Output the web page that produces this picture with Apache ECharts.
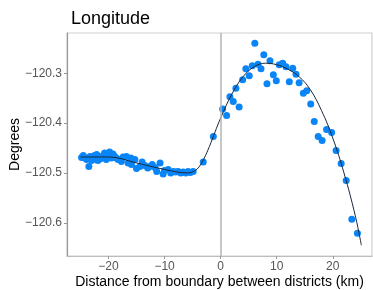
<!DOCTYPE html>
<html>
<head>
<meta charset="utf-8">
<script src="https://cdn.jsdelivr.net/npm/echarts@6/dist/echarts.min.js"></script>
<style>
  html, body { margin: 0; padding: 0; background: #fff; }
  #chart { width: 373px; height: 290px; }
</style>
</head>
<body>
<div id="chart"></div>
<script>
// distance from boundary (km) and longitude (degrees)
const distKm = [
  -24.8, -24.5, -24.2, -23.9, -23.5, -23.3, -23.0, -22.8, -22.5, -22.1,
  -21.9, -21.5, -21.25, -20.9, -20.7, -20.4, -20.1, -19.8, -19.5, -19.2,
  -18.9, -18.6, -18.3, -17.7, -17.4, -16.8, -16.5, -16.0, -15.9, -15.3,
  -15.0, -14.4, -14.0, -13.5, -13.0, -12.6, -12.2, -11.7, -11.4, -10.8,
  -10.25, -10.0, -9.36, -8.9, -8.46, -8.0, -7.57, -7.1, -6.68, -6.2,
  -5.8, -5.4, -4.9, -3.1, -1.3,
  0.36, 1.07, 1.66, 2.25, 2.73, 3.3, 3.93, 4.5, 5.1, 5.64,
  6.1, 6.66, 7.2, 7.7, 8.27, 8.8, 9.4, 9.93, 10.46, 11.07,
  11.66, 12.25, 12.86, 13.45, 14.0, 14.75, 15.36, 16.07, 16.7, 17.4,
  18.1, 18.9, 19.8, 20.6, 21.5, 22.4, 23.4, 24.4
];
const lonDeg = [
  -120.469, -120.465, -120.470, -120.473, -120.487, -120.467, -120.475, -120.470, -120.465, -120.463,
  -120.475, -120.472, -120.467, -120.468, -120.460, -120.473, -120.466, -120.458, -120.470, -120.462,
  -120.467, -120.470, -120.473, -120.477, -120.468, -120.467, -120.480, -120.470, -120.483, -120.473,
  -120.491, -120.487, -120.478, -120.485, -120.490, -120.487, -120.483, -120.489, -120.497, -120.480,
  -120.502, -120.495, -120.493, -120.500, -120.497, -120.498, -120.497, -120.500, -120.498, -120.500,
  -120.497, -120.499, -120.497, -120.478, -120.427,
  -120.372, -120.385, -120.347, -120.357, -120.330, -120.368, -120.313, -120.291, -120.305, -120.285,
  -120.240, -120.282, -120.291, -120.263, -120.321, -120.275, -120.303, -120.315, -120.283, -120.280,
  -120.287, -120.317, -120.290, -120.302, -120.319, -120.340, -120.335, -120.362, -120.397, -120.427,
  -120.435, -120.413, -120.419, -120.455, -120.481, -120.515, -120.593, -120.621
];

// fitted curve
const fitX = [-25, -20, -15, -10, -6, -5, -4, -3, -2, -1, 0, 2, 4, 6, 8, 10, 12, 14, 16, 18, 20, 22, 24, 25.1];
const fitY = [
  -120.468, -120.468, -120.480, -120.493, -120.500, -120.498, -120.490, -120.472, -120.447, -120.418,
  -120.390, -120.342, -120.307, -120.287, -120.280, -120.283, -120.292, -120.307, -120.333, -120.375,
  -120.430, -120.500, -120.585, -120.645
];

const xTicks = [-20, -10, 0, 10, 20];
const yTicks = [-120.6, -120.5, -120.4, -120.3];

const minus = (s) => s.replace('-', '\u2212');
const font = '"Liberation Sans", Arial, sans-serif';

const chart = echarts.init(document.getElementById('chart'), null, { renderer: 'canvas' });

const option = {
  animation: false,
  backgroundColor: '#ffffff',
  textStyle: { fontFamily: font },
  title: {
    text: 'Longitude',
    left: 66,
    top: 5,
    textStyle: { fontSize: 18, fontWeight: 'normal', color: '#000', fontFamily: font },
  },
  grid: {
    left: 67,
    right: 1,
    top: 33,
    bottom: 34,
    containLabel: false,
    outerBoundsMode: 'none',
    show: true,
    borderColor: '#cfcfcf',
    borderWidth: 1.2,
    backgroundColor: '#fff',
  },
  xAxis: {
    type: 'value',
    min: -27.4,
    max: 27.0,
    name: 'Distance from boundary between districts (km)',
    nameLocation: 'middle',
    nameGap: 19,
    nameMoveOverlap: false,
    nameTextStyle: { fontSize: 14, color: '#000', fontFamily: font },
    splitLine: { show: false },
    axisLine: { show: true, onZero: false, lineStyle: { color: '#bdbdbd', width: 1.2 } },
    axisTick: { show: true, customValues: xTicks, length: 3, lineStyle: { color: '#999' } },
    axisLabel: {
      customValues: xTicks,
      fontSize: 12,
      color: '#555',
      margin: 5,
      formatter: (v) => minus(String(v)),
    },
  },
  yAxis: {
    type: 'value',
    min: -120.6666,
    max: -120.2194,
    name: 'Degrees',
    nameLocation: 'middle',
    nameGap: 45,
    nameMoveOverlap: false,
    nameTextStyle: { fontSize: 14, color: '#000', fontFamily: font },
    splitLine: { show: false },
    axisLine: { show: true, onZero: false, lineStyle: { color: '#999', width: 1.2 } },
    axisTick: { show: true, customValues: yTicks, length: 3, lineStyle: { color: '#999' } },
    axisLabel: {
      customValues: yTicks,
      fontSize: 12,
      color: '#555',
      margin: 5,
      formatter: (v) => minus(v.toFixed(1)),
    },
  },
  series: [
    {
      name: 'boundary',
      type: 'line',
      data: [],
      z: 1,
      markLine: {
        silent: true,
        symbol: 'none',
        label: { show: false },
        lineStyle: { color: '#b5b5b5', width: 1.5, type: 'solid' },
        data: [{ xAxis: 0 }],
      },
    },
    {
      name: 'points',
      type: 'scatter',
      z: 2,
      symbolSize: 7,
      itemStyle: { color: '#0a85f7', opacity: 1 },
      data: distKm.map((d, i) => [d, lonDeg[i]]),
    },
    {
      name: 'fit',
      type: 'line',
      z: 3,
      smooth: 0.4,
      showSymbol: false,
      lineStyle: { color: '#1b2838', width: 1 },
      data: fitX.map((d, i) => [d, fitY[i]]),
    },
  ],
};

chart.setOption(option);
</script>
</body>
</html>
